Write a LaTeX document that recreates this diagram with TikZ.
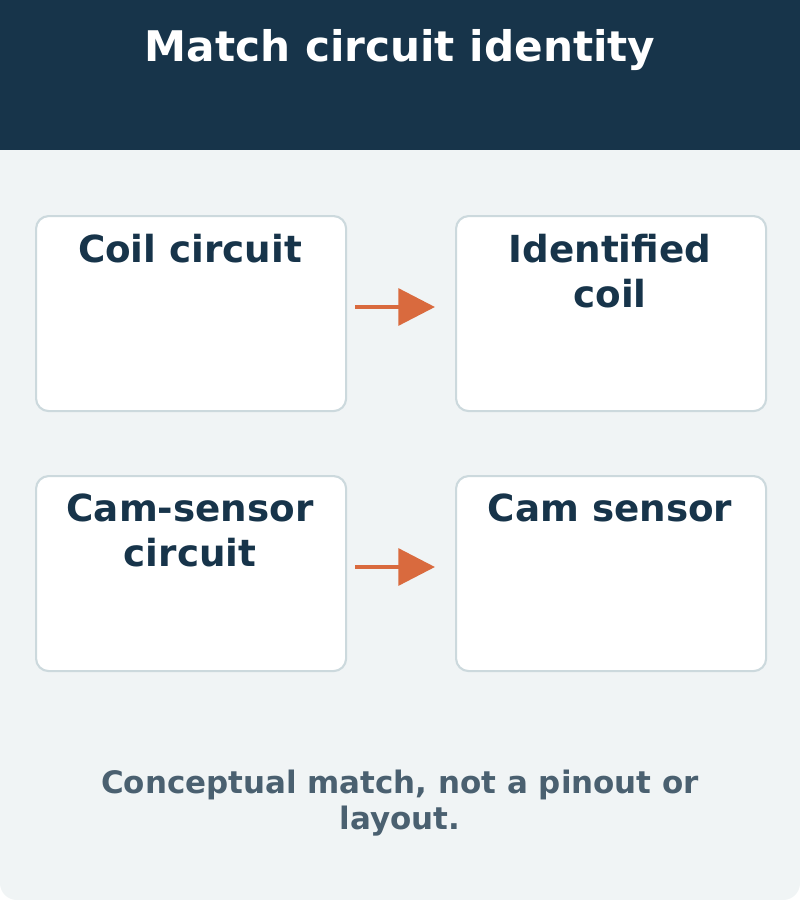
\documentclass[tikz,border=0pt]{standalone}
\usepackage{fontspec}
\setmainfont{DejaVu Sans}
\usetikzlibrary{arrows.meta,positioning}
\definecolor{navy}{HTML}{17344A}
\definecolor{paper}{HTML}{F0F4F5}
\definecolor{edge}{HTML}{CCD9DD}
\definecolor{accent}{HTML}{D96A3E}
\definecolor{muted}{HTML}{4A6070}
\begin{document}
\begin{tikzpicture}[x=0.025cm,y=-0.025cm,
    card/.style={draw=edge,line width=1.5pt,fill=white,rounded corners=9pt,minimum width=7.75cm,minimum height=4.875cm,anchor=north west},
    cardtext/.style={anchor=north,align=center,text=navy,font=\bfseries\fontsize{26.5}{32}\selectfont},
    flow/.style={draw=accent,line width=3pt,-{Triangle[length=26pt,width=26pt]}}]
  \useasboundingbox (0,0) rectangle (800,900);
  \fill[paper,rounded corners=12pt] (0,0) rectangle (800,900);
  \fill[navy] (0,0) rectangle (800,150);
  \node[text=white,font=\bfseries\fontsize{30}{36}\selectfont] (title) at (400,50) {Match circuit identity};
  % cards
  \node[card] (coil) at (35,215) {};
  \node[card] (ident) at (455,215) {};
  \node[card] (cam) at (35,475) {};
  \node[card] (sensor) at (455,475) {};
  \node[cardtext] (coilT) at (190,229) {Coil circuit};
  \node[cardtext] (identT) at (610,229) {Identified\\coil};
  \node[cardtext] (camT) at (190,489) {Cam-sensor\\circuit};
  \node[cardtext] (sensorT) at (610,489) {Cam sensor};
  % arrows
  \coordinate (a1) at (355,307); \coordinate (b1) at (435,307);
  \coordinate (a2) at (355,567); \coordinate (b2) at (435,567);
  \draw[flow] (a1) -- (b1);
  \draw[flow] (a2) -- (b2);
  \node[text=muted,align=center,font=\bfseries\fontsize{22}{26}\selectfont] (note) at (400,803) {Conceptual match, not a pinout or\\layout.};
\end{tikzpicture}
\end{document}
